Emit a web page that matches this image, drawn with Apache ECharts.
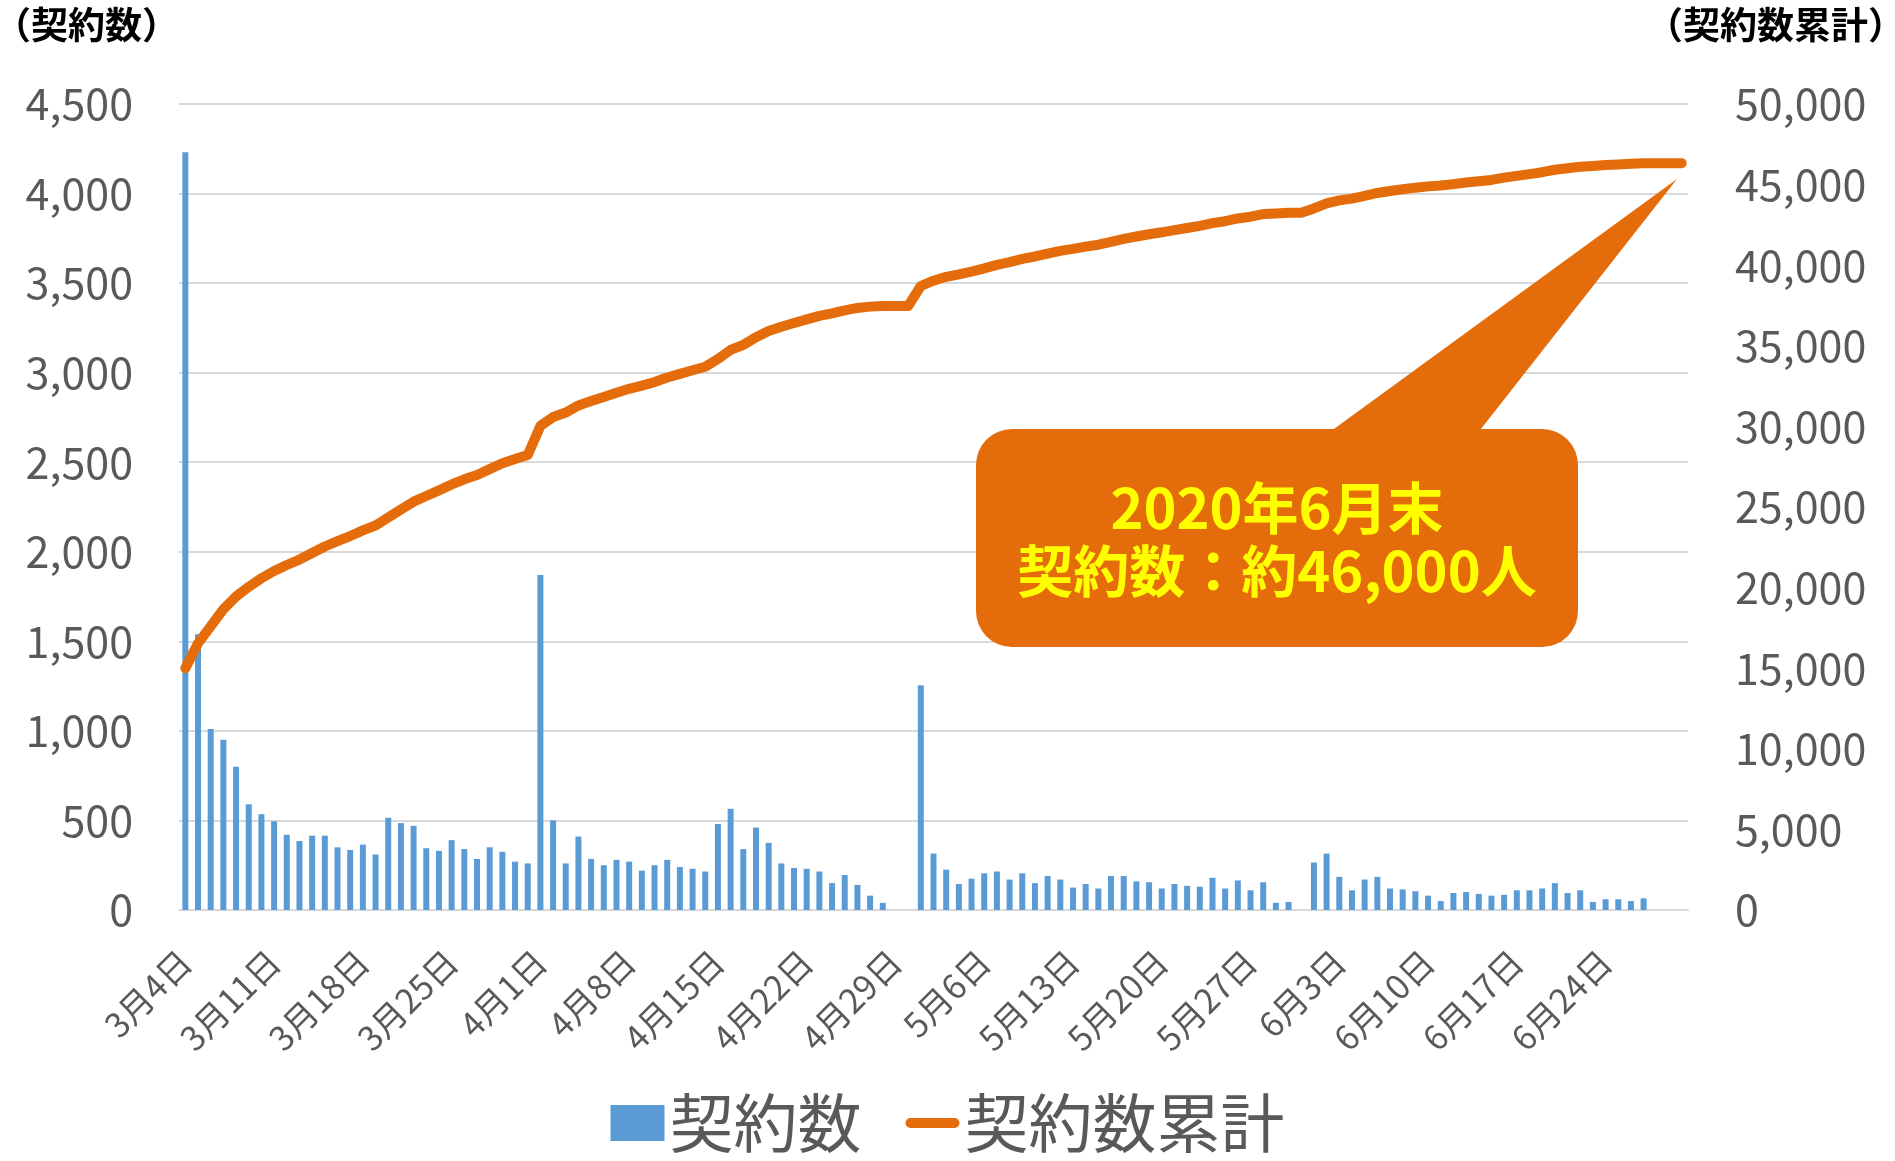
<!DOCTYPE html>
<html>
<head>
<meta charset="utf-8">
<script src="https://cdn.jsdelivr.net/npm/echarts@6/dist/echarts.min.js"></script>
<style>
  html, body { margin: 0; padding: 0; background: #fff; }
  #chart { width: 1895px; height: 1161px; }
</style>
</head>
<body>
<div id="chart"></div>
<script>
// month, first day, last day
var monthSpans = [[3, 4, 31], [4, 1, 30], [5, 1, 31], [6, 1, 30]];
var dates = [];
monthSpans.forEach(function (m) {
  for (var d = m[1]; d <= m[2]; d++) dates.push(m[0] + '月' + d + '日');
});

// 契約数 (daily)
var daily = [
  4230, 1540, 1010, 950, 800, 590, 535, 495, 420, 385, 415, 415, 350, 335,
  365, 310, 515, 485, 470, 345, 330, 390, 340, 285, 350, 325, 270, 260,
  1870, 500, 260, 410, 285, 250, 280, 270, 220, 250, 280, 240, 230, 215, 480,
  565, 340, 460, 375, 260, 235, 230, 215, 150, 195, 140, 80, 40, 0, 0,
  1255, 315, 225, 145, 175, 205, 215, 170, 205, 150, 190, 170, 125, 145, 120,
  190, 190, 160, 155, 120, 145, 135, 130, 180, 120, 165, 110, 155, 40, 45, 0,
  265, 315, 185, 110, 170, 185, 120, 115, 105, 80, 50, 95, 100, 90, 80,
  85, 110, 110, 120, 150, 95, 110, 45, 60, 60, 50, 65, 0, 0, 0
];

// 契約数累計
var cumulative = [
  15000, 16540, 17600, 18650, 19450, 20050, 20580, 21030, 21400, 21740,
  22150, 22550, 22880, 23200, 23550, 23850, 24350, 24850, 25330, 25680,
  26030, 26400, 26720, 26980, 27350, 27720, 27980, 28230,
  30030, 30580, 30860, 31300, 31570, 31820, 32080, 32330, 32530, 32750,
  33030, 33260, 33480, 33700, 34180, 34740, 35060, 35530, 35920, 36180,
  36410, 36640, 36860, 37010, 37200, 37350, 37430, 37470, 37470, 37470,
  38710, 39040, 39280, 39430, 39600, 39800, 40020, 40190, 40390, 40540,
  40720, 40890, 41010, 41150, 41270, 41450, 41630, 41780, 41920, 42040,
  42180, 42310, 42440, 42610, 42730, 42900, 43010, 43170, 43210, 43250, 43250,
  43520, 43840, 44020, 44130, 44300, 44480, 44600, 44710, 44810, 44890,
  44940, 45030, 45130, 45210, 45290, 45430, 45540, 45650, 45770, 45920,
  46010, 46110, 46160, 46210, 46250, 46290, 46330, 46330, 46330, 46330
];

var calloutLines = ['2020年6月末', '契約数：約46,000人'];

var font = '"Noto Sans CJK JP", "Noto Sans", sans-serif';
var ink = '#595959';
var blue = '#5B9BD5';
var orange = '#E46C0A';
var rule = '#D9D9D9';

function comma(v) { return v.toLocaleString('en-US'); }

var chart = echarts.init(document.getElementById('chart'), null, { renderer: 'canvas' });

chart.setOption({
  animation: false,
  backgroundColor: '#fff',
  textStyle: { fontFamily: font },
  grid: { left: 179, right: 207, top: 104, bottom: 251 },
  legend: {
    left: 'center',
    top: 1086,
    itemWidth: 54,
    itemHeight: 36,
    itemGap: 44,
    textStyle: { color: ink, fontSize: 64, fontFamily: font },
    data: [
      { name: '契約数', icon: 'rect' },
      { name: '契約数累計', icon: 'path://M5,0H49A5,5 0 0 1 49,10H5A5,5 0 0 1 5,0Z' }
    ]
  },
  xAxis: {
    type: 'category',
    data: dates,
    axisLine: { lineStyle: { color: rule, width: 2 } },
    axisTick: { show: false },
    axisLabel: {
      interval: 6,
      rotate: 45,
      margin: 46,
      color: ink,
      fontSize: 34,
      fontFamily: font
    }
  },
  yAxis: [
    {
      type: 'value',
      min: 0,
      max: 4500,
      interval: 500,
      axisLine: { show: false },
      axisTick: { show: false },
      axisLabel: { color: ink, fontSize: 43, margin: 46, fontFamily: font, formatter: comma },
      splitLine: { lineStyle: { color: rule, width: 2 } }
    },
    {
      type: 'value',
      min: 0,
      max: 50000,
      interval: 5000,
      axisLine: { show: false },
      axisTick: { show: false },
      axisLabel: { color: ink, fontSize: 43, margin: 47, fontFamily: font, formatter: comma },
      splitLine: { show: false }
    }
  ],
  series: [
    {
      name: '契約数',
      type: 'bar',
      data: daily,
      barWidth: 6,
      itemStyle: { color: blue }
    },
    {
      name: '契約数累計',
      type: 'line',
      yAxisIndex: 1,
      data: cumulative,
      symbol: 'none',
      itemStyle: { color: orange },
      lineStyle: { color: orange, width: 10, cap: 'round', join: 'round' },
      z: 5
    }
  ],
  graphic: [
    {
      type: 'text', left: -6, top: 6,
      style: { text: '（契約数）', fill: '#000', font: 'bold 37px ' + font }
    },
    {
      type: 'text', right: -10, top: 6,
      style: { text: '（契約数累計）', fill: '#000', font: 'bold 37px ' + font }
    },
    {
      type: 'polygon', z: 20,
      shape: { points: [[1327, 434], [1477, 434], [1677, 179]] },
      style: { fill: orange }
    },
    {
      type: 'rect', z: 20,
      shape: { x: 976, y: 429, width: 602, height: 218, r: 36 },
      style: { fill: orange }
    },
    {
      type: 'text', z: 21, x: 1277, y: 508,
      style: { text: calloutLines[0], fill: '#FFFF00', font: 'bold 56px ' + font, align: 'center', verticalAlign: 'middle' }
    },
    {
      type: 'text', z: 21, x: 1277, y: 571,
      style: { text: calloutLines[1], fill: '#FFFF00', font: 'bold 56px ' + font, align: 'center', verticalAlign: 'middle' }
    }
  ]
});

window.addEventListener('resize', function () { chart.resize(); });
</script>
</body>
</html>
